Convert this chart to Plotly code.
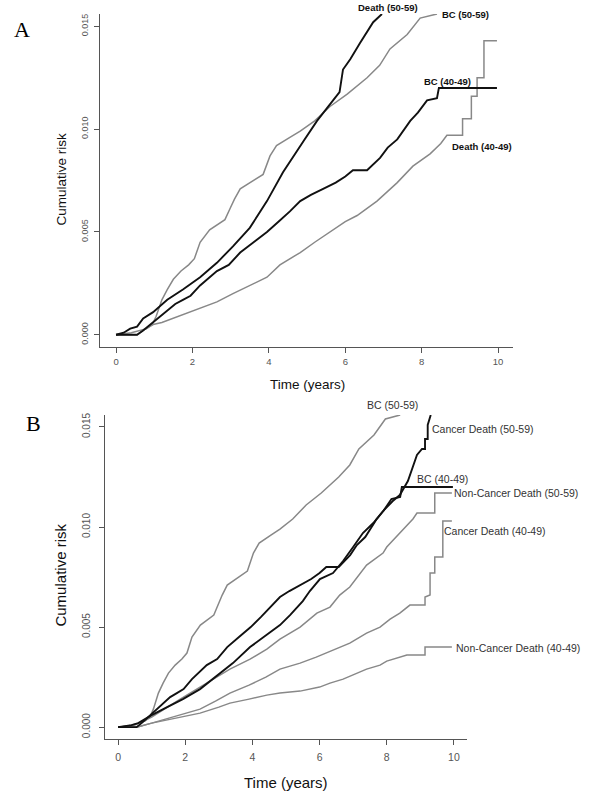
import plotly.graph_objects as go

# ---------------- data ----------------
# Panel A / B shared: breast cancer incidence
bc_5059_t = [0, 0.4, 0.8, 0.95, 1.05, 1.2, 1.34, 1.5, 1.7, 1.9, 2.05, 2.2, 2.45, 2.7, 2.85, 3.0,
             3.1, 3.25, 3.5, 3.85, 4.03, 4.2, 4.55, 4.82, 5.2, 5.6, 6.05, 6.57, 6.9, 7.17, 7.62,
             7.96, 8.4]
bc_5059_v = [0, 0.0001, 0.0003, 0.0005, 0.0009, 0.0017, 0.0022, 0.0027, 0.0031, 0.0034, 0.0037,
             0.0045, 0.0051, 0.0054, 0.0056, 0.0062, 0.0066, 0.0071, 0.0074, 0.0078, 0.0087,
             0.0092, 0.0096, 0.0099, 0.0104, 0.0111, 0.0117, 0.0125, 0.0131, 0.0139, 0.0146,
             0.0154, 0.0156]

bc_4049_t = [0, 0.55, 0.7, 0.9, 1.1, 1.34, 1.55, 1.75, 1.95, 2.2, 2.45, 2.64, 2.95, 3.25, 3.6,
             3.95, 4.25, 4.55, 4.82, 5.1, 5.42, 5.75, 6.0, 6.2, 6.57, 6.91, 7.11, 7.36, 7.7, 7.9,
             8.14, 8.4, 8.45, 9.97]
bc_4049_v = [0, 0, 0.0002, 0.0005, 0.0008, 0.0012, 0.0015, 0.0017, 0.0019, 0.0024, 0.0028,
             0.0031, 0.0034, 0.0040, 0.0045, 0.0050, 0.0055, 0.0060, 0.0065, 0.0068, 0.0071,
             0.0074, 0.0077, 0.0080, 0.0080, 0.0086, 0.0091, 0.0095, 0.0104, 0.0108, 0.0114,
             0.0115, 0.0120, 0.0120]

# Panel A: all-cause death
death_5059_t = [0, 0.2, 0.37, 0.55, 0.71, 0.97, 1.34, 1.75, 2.2, 2.64, 3.06, 3.5, 3.95, 4.37,
                4.9, 5.26, 5.68, 5.85, 5.94, 6.13, 6.39, 6.73, 6.96]
death_5059_v = [0, 0.0001, 0.0003, 0.0004, 0.0008, 0.0011, 0.0017, 0.0022, 0.0028, 0.0035,
                0.0043, 0.0052, 0.0065, 0.0079, 0.0094, 0.0104, 0.0114, 0.0118, 0.0129, 0.0134,
                0.0142, 0.0152, 0.0156]

death_4049_t = [0, 0.55, 0.7, 0.97, 1.2, 1.49, 1.8, 2.2, 2.64, 3.06, 3.5, 3.95, 4.29, 4.82, 5.2,
                5.6, 6.0, 6.31, 6.83, 7.36, 7.77, 8.22, 8.5, 8.66, 9.07, 9.07, 9.3, 9.3, 9.45,
                9.45, 9.63, 9.63, 9.97]
death_4049_v = [0, 0, 0.0002, 0.0005, 0.0006, 0.0008, 0.0010, 0.0013, 0.0016, 0.0020, 0.0024,
                0.0028, 0.0034, 0.0040, 0.0045, 0.0050, 0.0055, 0.0058, 0.0065, 0.0074, 0.0082,
                0.0088, 0.0093, 0.0097, 0.0097, 0.0105, 0.0105, 0.0116, 0.0116, 0.0125, 0.0125,
                0.0143, 0.0143]

# Panel B: cause-specific death
cd_5059_t = [0, 0.4, 0.6, 1.0, 1.46, 1.93, 2.44, 2.95, 3.42, 3.93, 4.43, 4.82, 5.12, 5.5, 5.71,
             6.01, 6.4, 6.7, 7.0, 7.29, 7.6, 7.89, 8.18, 8.39, 8.63, 8.78, 8.9, 9.05, 9.14, 9.14,
             9.22, 9.22, 9.31]
cd_5059_v = [0, 0.0001, 0.0002, 0.0006, 0.0010, 0.0014, 0.0019, 0.0026, 0.0032, 0.0040, 0.0046,
             0.0051, 0.0056, 0.0063, 0.0068, 0.0074, 0.0077, 0.0083, 0.0090, 0.0097, 0.0102,
             0.0108, 0.0113, 0.0116, 0.0123, 0.0130, 0.0136, 0.0139, 0.0139, 0.0144, 0.0144,
             0.0151, 0.0156]

ncd_5059_t = [0, 0.5, 1.0, 1.46, 1.85, 2.44, 2.95, 3.33, 3.93, 4.43, 4.82, 5.42, 5.92, 6.31, 6.6,
              6.9, 7.4, 7.89, 8.0, 8.39, 8.78, 8.9, 9.43, 9.43, 9.94]
ncd_5059_v = [0, 0.0001, 0.0005, 0.0010, 0.0014, 0.0020, 0.0025, 0.0029, 0.0034, 0.0039, 0.0044,
              0.0050, 0.0057, 0.0060, 0.0066, 0.0070, 0.0081, 0.0087, 0.0090, 0.0097, 0.0104,
              0.0107, 0.0107, 0.0117, 0.0117]

cd_4049_t = [0, 0.55, 1.0, 1.4, 1.85, 2.44, 2.9, 3.33, 3.9, 4.4, 4.82, 5.42, 5.9, 6.31, 6.9, 7.4,
             7.8, 8.1, 8.39, 8.69, 9.14, 9.14, 9.29, 9.29, 9.43, 9.43, 9.67, 9.67, 9.94]
cd_4049_v = [0, 0, 0.0002, 0.0004, 0.0006, 0.0009, 0.0013, 0.0017, 0.0021, 0.0025, 0.0029,
             0.0032, 0.0035, 0.0038, 0.0042, 0.0047, 0.0050, 0.0054, 0.0057, 0.0061, 0.0061,
             0.0065, 0.0066, 0.0077, 0.0077, 0.0085, 0.0085, 0.0103, 0.0103]

ncd_4049_t = [0, 0.55, 1.0, 1.85, 2.44, 3.0, 3.33, 3.9, 4.43, 4.82, 5.42, 6.0, 6.31, 6.7, 7.1,
              7.4, 7.8, 8.0, 8.6, 9.14, 9.14, 9.94]
ncd_4049_v = [0, 0, 0.0002, 0.0005, 0.0007, 0.0010, 0.0012, 0.0014, 0.0016, 0.0017, 0.0018,
              0.0020, 0.0022, 0.0024, 0.0027, 0.0029, 0.0031, 0.0033, 0.0036, 0.0036, 0.0040,
              0.0040]

x_ticks = [0, 2, 4, 6, 8, 10]
y_ticks = [0.0, 0.005, 0.010, 0.015]

# ---------------- styling ----------------
W, H = 600, 795
BLACK = "#111111"
GRAY = "#888888"
AXC = "#555555"
SANS = "Liberation Sans, Arial, sans-serif"
SERIF = "Liberation Serif, Times New Roman, serif"


def px(x):
    return x / W


def py(y):
    return 1 - y / H


fig = go.Figure()


def add(t, v, color, width, xa, ya):
    fig.add_trace(go.Scatter(x=t, y=v, mode="lines", xaxis=xa, yaxis=ya,
                             line=dict(color=color, width=width), hoverinfo="skip",
                             showlegend=False))


# Panel A
add(death_4049_t, death_4049_v, GRAY, 1.5, "x", "y")
add(bc_5059_t, bc_5059_v, GRAY, 1.5, "x", "y")
add(bc_4049_t, bc_4049_v, BLACK, 1.9, "x", "y")
add(death_5059_t, death_5059_v, BLACK, 1.9, "x", "y")

# Panel B
add(ncd_4049_t, ncd_4049_v, GRAY, 1.5, "x2", "y2")
add(cd_4049_t, cd_4049_v, GRAY, 1.5, "x2", "y2")
add(ncd_5059_t, ncd_5059_v, GRAY, 1.5, "x2", "y2")
add(bc_5059_t, bc_5059_v, GRAY, 1.5, "x2", "y2")
add(bc_4049_t, bc_4049_v, BLACK, 1.9, "x2", "y2")
add(cd_5059_t, cd_5059_v, BLACK, 1.9, "x2", "y2")

axis_common = dict(showline=True, linecolor=AXC, linewidth=1, ticks="outside", ticklen=5,
                   tickcolor=AXC, tickwidth=1, showgrid=False, zeroline=False, mirror=False,
                   fixedrange=True)

xa_A = dict(axis_common, domain=[px(100), px(513)], range=[-0.42, 10.39], anchor="y",
            tickvals=x_ticks, tickfont=dict(family=SANS, size=9.5, color=AXC),
            ticklabelstandoff=0)
ya_A = dict(axis_common, domain=[py(346), py(12)], range=[-0.0006, 0.0156], anchor="x",
            tickvals=y_ticks, tickformat=".3f", tickangle=-90,
            tickfont=dict(family=SANS, size=9, color=AXC), ticklabelstandoff=2)
xa_B = dict(axis_common, domain=[px(105), px(467)], range=[-0.39, 10.39], anchor="y2",
            tickvals=x_ticks, tickfont=dict(family=SANS, size=10.5, color=AXC),
            ticklabelstandoff=3)
ya_B = dict(axis_common, domain=[py(739), py(414)], range=[-0.0006, 0.0156], anchor="x2",
            tickvals=y_ticks, tickformat=".3f", tickangle=-90,
            tickfont=dict(family=SANS, size=10, color=AXC), ticklabelstandoff=5)

annotations = []


def label(text, x, y, size, family=SANS, bold=False, angle=0, color="#222222"):
    annotations.append(dict(text=("<b>%s</b>" % text) if bold else text, x=px(x), y=py(y),
                            xref="paper", yref="paper", xanchor="center", yanchor="middle",
                            showarrow=False, textangle=angle,
                            font=dict(family=family, size=size, color=color)))


# panel letters
label("A", 22, 28, 22, family=SERIF, color="#000000")
label("B", 33, 423, 22, family=SERIF, color="#000000")

# axis titles
label("Time (years)", 307, 383, 13.5, color="#111111")
label("Cumulative risk", 62, 178, 13.5, angle=-90, color="#111111")
label("Time (years)", 286, 782, 15, color="#111111")
label("Cumulative risk", 61, 575, 15, angle=-90, color="#111111")

# curve labels, panel A (bold)
label("Death (50-59)", 388, 6, 9.5, bold=True, color="#111111")
label("BC (50-59)", 465, 13, 9.5, bold=True, color="#111111")
label("BC (40-49)", 447, 80, 9.5, bold=True, color="#111111")
label("Death (40-49)", 482, 145, 9.5, bold=True, color="#111111")

# curve labels, panel B
label("BC (50-59)", 392, 404, 10.5, color="#333333")
label("Cancer Death (50-59)", 483, 428, 10.5, color="#333333")
label("BC (40-49)", 442, 478, 10.5, color="#333333")
label("Non-Cancer Death (50-59)", 516, 492, 10.5, color="#333333")
label("Cancer Death (40-49)", 495, 530, 10.5, color="#333333")
label("Non-Cancer Death (40-49)", 518, 648, 10.5, color="#333333")

fig.update_layout(width=W, height=H, margin=dict(l=0, r=0, t=0, b=0),
                  paper_bgcolor="white", plot_bgcolor="white",
                  xaxis=xa_A, yaxis=ya_A, xaxis2=xa_B, yaxis2=ya_B,
                  annotations=annotations, showlegend=False)

fig.write_html("out.html", config={"displayModeBar": False},
               post_script="document.body.style.margin='0';document.body.style.overflow='hidden';")
